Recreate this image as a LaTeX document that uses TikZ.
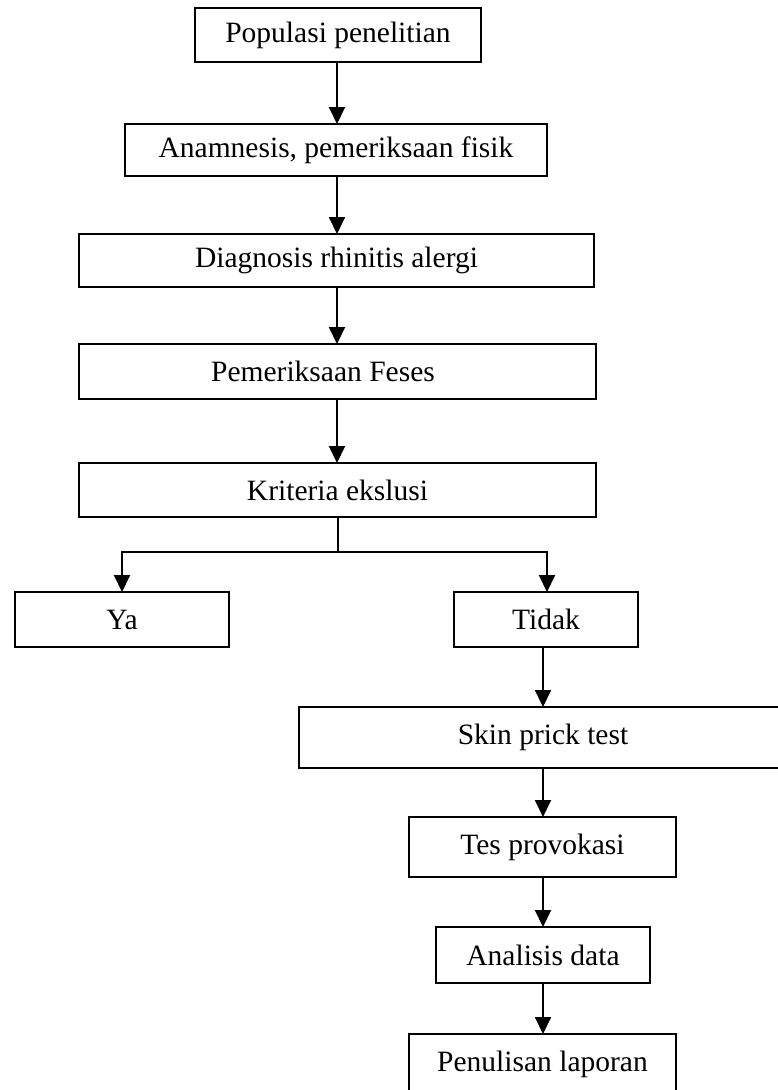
\documentclass[tikz,border=0pt]{standalone}
\usepackage{fontspec}
\setmainfont{Liberation Serif}
\usetikzlibrary{arrows.meta}
\begin{document}
\begin{tikzpicture}[x=1pt,y=-1pt,
  stepbox/.style={draw=black, line width=1.5pt, inner sep=0pt, outer sep=0pt,
    font=\fontsize{29.5}{34}\selectfont, align=center},
  arr/.style={line width=2pt, -{Triangle[length=17pt,width=16pt]}},
  link/.style={line width=2pt}]
\useasboundingbox (0,0) rectangle (778,1090);
\begin{scope}
\clip (0,0) rectangle (778,1090);
% main column
\node[stepbox, minimum width=286pt, minimum height=54pt] (pop)  at (338,35)    {Populasi penelitian};
\node[stepbox, minimum width=422pt, minimum height=52pt] (anam) at (336,150)   {Anamnesis, pemeriksaan fisik};
\node[stepbox, minimum width=515pt, minimum height=53pt] (diag) at (336.5,260.5) {Diagnosis rhinitis alergi};
\node[stepbox, minimum width=517pt, minimum height=55pt] (fes)  at (337.5,371.5) {\hspace*{-29pt}Pemeriksaan Feses};
\node[stepbox, minimum width=517pt, minimum height=54pt] (krit) at (337.5,490) {Kriteria ekslusi};
% branches
\node[stepbox, minimum width=214pt, minimum height=55pt] (ya)    at (122,619.5) {Ya};
\node[stepbox, minimum width=184pt, minimum height=55pt] (tidak) at (546,619.5) {Tidak};
% right column
\node[stepbox, minimum width=488pt, minimum height=61pt] (skin) at (543,737.5)  {Skin prick test};
\node[stepbox, minimum width=267pt, minimum height=60pt] (tes)  at (542.5,847)  {Tes provokasi};
\node[stepbox, minimum width=214pt, minimum height=56pt] (ana)  at (543,955)    {Analisis data};
\node[stepbox, minimum width=267pt, minimum height=60pt] (lap)  at (542.5,1064) {Penulisan laporan};
\coordinate (split) at (337.5,552);
\coordinate (yatop) at (122,592);
\coordinate (titop) at (547,592);
% connectors
\draw[arr] (pop.south -| 337,0) -- (anam.north -| 337,0);
\draw[arr] (anam.south -| 337,0) -- (diag.north -| 337,0);
\draw[arr] (diag.south -| 337,0) -- (fes.north -| 337,0);
\draw[arr] (fes.south -| 337,0) -- (krit.north -| 337,0);
\draw[link] (krit.south) -- (split);
\draw[arr] (split) -| (yatop);
\draw[arr] (split) -| (titop);
\draw[arr] (tidak.south -| 543,0) -- (skin.north -| 543,0);
\draw[arr] (skin.south -| 543,0) -- (tes.north -| 543,0);
\draw[arr] (tes.south -| 543,0) -- (ana.north -| 543,0);
\draw[arr] (ana.south -| 543,0) -- (lap.north -| 543,0);
\end{scope}
\end{tikzpicture}
\end{document}
